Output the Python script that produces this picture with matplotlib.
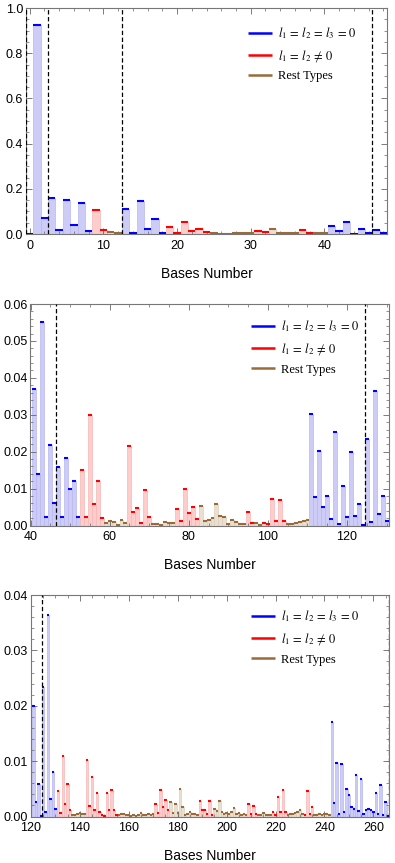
import numpy as np
import matplotlib
matplotlib.use("Agg")
import matplotlib.pyplot as plt
from matplotlib.ticker import MultipleLocator, FormatStrFormatter

plt.rcParams['font.family'] = ['Liberation Sans', 'DejaVu Sans']
plt.rcParams['mathtext.fontset'] = 'stix'

# ---- data: probability per base number (0..266) ----
prob = [
    0.0, 0.926, 0.072, 0.158, 0.017, 0.152, 0.039, 0.138, 0.014, 0.108,      # 0-9
    0.017, 0.010, 0.005, 0.109, 0.006, 0.145, 0.020, 0.068, 0.005, 0.032,    # 10-19
    0.005, 0.055, 0.013, 0.023, 0.007, 0.003, 0.002, 0.002, 0.003, 0.004,    # 20-29
    0.004, 0.015, 0.007, 0.024, 0.004, 0.003, 0.005, 0.019, 0.006, 0.003,    # 30-39
    0.004, 0.0370, 0.0140, 0.0552, 0.0022, 0.0217, 0.0061, 0.0159, 0.0023, 0.0183,  # 40-49
    0.0099, 0.0120, 0.0023, 0.0150, 0.0023, 0.0300, 0.0059, 0.0120, 0.0021, 0.0008,  # 50-59
    0.0012, 0.0010, 0.0001, 0.0016, 0.0007, 0.0214, 0.0037, 0.0048, 0.0007, 0.0097,  # 60-69
    0.0022, 0.0005, 0.0004, 0.0002, 0.0009, 0.0007, 0.0006, 0.0046, 0.0012, 0.0100,  # 70-79
    0.0034, 0.0050, 0.0018, 0.0053, 0.0012, 0.0015, 0.0019, 0.0059, 0.0027, 0.0022,  # 80-89
    0.0005, 0.0014, 0.0009, 0.0005, 0.0004, 0.0036, 0.0008, 0.0008, 0.0002, 0.0007,  # 90-99
    0.0005, 0.0071, 0.0013, 0.0068, 0.0011, 0.0003, 0.0005, 0.0006, 0.0010, 0.0013,  # 100-109
    0.0015, 0.0303, 0.0077, 0.0203, 0.0050, 0.0079, 0.0017, 0.0252, 0.0003, 0.0106,  # 110-119
    0.0023, 0.0200, 0.0027, 0.0058, 0.0001, 0.0234, 0.0009, 0.0364, 0.0032, 0.0081,  # 120-129
    0.0013, 0.0046, 0.0007, 0.0110, 0.0023, 0.0059, 0.0012, 0.0002, 0.0003, 0.0005,  # 130-139
    0.0006, 0.0004, 0.0004, 0.0102, 0.0019, 0.0071, 0.0012, 0.0043, 0.0008, 0.0002,  # 140-149
    0.0001, 0.0043, 0.0011, 0.0047, 0.0012, 0.0003, 0.0002, 0.0004, 0.0004, 0.0002,  # 150-159
    0.0003, 0.0001, 0.0002, 0.0001, 0.0003, 0.0006, 0.0003, 0.0002, 0.0004, 0.0003,  # 160-169
    0.0004, 0.0022, 0.0006, 0.0048, 0.0017, 0.0030, 0.0011, 0.0027, 0.0006, 0.0022,  # 170-179
    0.0006, 0.0050, 0.0017, 0.0003, 0.0004, 0.0009, 0.0005, 0.0004, 0.0003, 0.0028,  # 180-189
    0.0011, 0.0012, 0.0004, 0.0028, 0.0003, 0.0013, 0.0010, 0.0028, 0.0009, 0.0005,  # 190-199
    0.0007, 0.0005, 0.0008, 0.0016, 0.0004, 0.0006, 0.0003, 0.0004, 0.0002, 0.0022,  # 200-209
    0.0005, 0.0019, 0.0005, 0.0003, 0.0002, 0.0006, 0.0002, 0.0003, 0.0002, 0.0008,  # 210-219
    0.0003, 0.0036, 0.0008, 0.0047, 0.0008, 0.0003, 0.0005, 0.0004, 0.0006, 0.0008,  # 220-229
    0.0012, 0.0004, 0.0003, 0.0046, 0.0005, 0.0018, 0.0002, 0.0003, 0.0005, 0.0003,  # 230-239
    0.0005, 0.0004, 0.0002, 0.0171, 0.0025, 0.0097, 0.0005, 0.0094, 0.0009, 0.0050,  # 240-249
    0.0038, 0.0017, 0.0014, 0.0075, 0.0010, 0.0068, 0.0005, 0.0012, 0.0013, 0.0011,  # 250-259
    0.0008, 0.0043, 0.0004, 0.0057, 0.0002, 0.0026, 0.0001,                          # 260-266
]

# type per base: B = l1=l2=l3=0, R = l1=l2!=0, N = rest types
kind = (
    "BBBBBBBBBR" "RNNBBBBBBR" "RRRRRNNNNN" "NRRNNNNRRN"   # 0-39
    "NBBBBBBBBB" "BBBRRRRRRN" "NNNNNRRRRR" "RNNNNNNRRR"   # 40-79
    "RRRNNNNNNN" "NNNNNRRNNR" "RRRRRNNNNN" "NBBBBBBBBB"   # 80-119
    "BBBBBBBBBB" "BRRRRRRNNN" "NNNRRRRRRR" "RRRRRRNNNN"   # 120-159
    "NNNNNNNNNN" "NRRRRRRNNN" "NNNNNNNNNR" "RRRRRNNNNN"   # 160-199
    "NNNNNNNNNR" "RRRNNNNNNR" "RRRRRNNNNN" "NNRRRRNNNN"   # 200-239
    "NNNBBBBBBB" "BBBBBBBBBB" "BBBBBBB"                    # 240-266
)

bases = np.arange(len(prob))
prob = np.array(prob)
kind = np.array(list(kind))

labels = {'B': r'$l_1\,=\,l_2\,=\,l_3\,=\,0$', 'R': r'$l_1\,=\,l_2\,\neq\,0$', 'N': 'Rest Types'}
line_col = {'B': '#0000ff', 'R': '#ff0000', 'N': '#9a6b3a'}
fill_col = {'B': '#ccccf7', 'R': '#ffcccc', 'N': '#eae0d2'}
edge_col = {'B': '#b8b8f0', 'R': '#f5b8b8', 'N': '#dccdb8'}

panels = [
    dict(rect=[26/395, 1-234/863, 361/395, 226/863], rng=(0, 48), xlim=(-0.5, 48.5),
         ylim=(0, 1.0), xmaj=10, xmin=2, ymaj=0.2, ymin=0.05, yfmt='%.1f',
         dashes=[-0.5, 2.5, 12.5, 46.5], leg=(0.615, 0.925)),
    dict(rect=[30.5/395, 1-525.5/863, 358.5/395, 221.5/863], rng=(41, 130), xlim=(40, 130.6),
         ylim=(0, 0.06), xmaj=20, xmin=5, ymaj=0.01, ymin=0.002, yfmt='%.2f',
         dashes=[46.5, 124.5], leg=(0.615, 0.935)),
    dict(rect=[31/395, 1-816.5/863, 358.5/395, 221.5/863], rng=(121, 266), xlim=(120, 266.6),
         ylim=(0, 0.04), xmaj=20, xmin=5, ymaj=0.01, ymin=0.002, yfmt='%.2f',
         dashes=[124.5, 266.5], leg=(0.615, 0.94)),
]

fig = plt.figure(figsize=(3.95, 8.63), dpi=100)

for p in panels:
    ax = fig.add_axes(p['rect'])
    lo, hi = p['rng']
    sel = (bases >= lo) & (bases <= hi)
    handles = []
    for k in ['B', 'R', 'N']:
        m = sel & (kind == k)
        ax.bar(bases[m], prob[m], width=1.0, color=fill_col[k], edgecolor=edge_col[k],
               linewidth=0.5, zorder=1)
        h = ax.hlines(prob[m], bases[m] - 0.5, bases[m] + 0.5, colors=line_col[k],
                      linewidth=1.5, zorder=3, label=labels[k])
        handles.append(h)
    for d in p['dashes']:
        ax.axvline(d, color='black', linestyle=(0, (3.5, 2)), linewidth=0.9, zorder=4)
    ax.set_xlim(*p['xlim'])
    ax.set_ylim(*p['ylim'])
    ax.xaxis.set_major_locator(MultipleLocator(p['xmaj']))
    ax.xaxis.set_minor_locator(MultipleLocator(p['xmin']))
    ax.yaxis.set_major_locator(MultipleLocator(p['ymaj']))
    ax.yaxis.set_minor_locator(MultipleLocator(p['ymin']))
    ax.yaxis.set_major_formatter(FormatStrFormatter(p['yfmt']))
    ax.tick_params(which='both', direction='in', top=True, right=True, color='#666666')
    ax.tick_params(which='major', length=4, width=0.6, labelsize=9)
    ax.tick_params(axis='x', which='major', pad=4)
    ax.tick_params(axis='y', which='major', pad=2)
    ax.tick_params(which='minor', length=2, width=0.5)
    for s in ax.spines.values():
        s.set_color('#777777')
        s.set_linewidth(0.8)
    ax.set_xlabel('Bases Number', fontsize=10, labelpad=11)
    leg = ax.legend(handles=handles, loc='upper left', bbox_to_anchor=p['leg'],
                    frameon=False, borderpad=0, borderaxespad=0, handlelength=1.9,
                    handletextpad=0.5, labelspacing=0.55,
                    prop={'family': 'Liberation Serif', 'size': 9})
    for lh in leg.legend_handles:
        lh.set_linewidth(1.8)

fig.savefig('out.png', dpi=100)
